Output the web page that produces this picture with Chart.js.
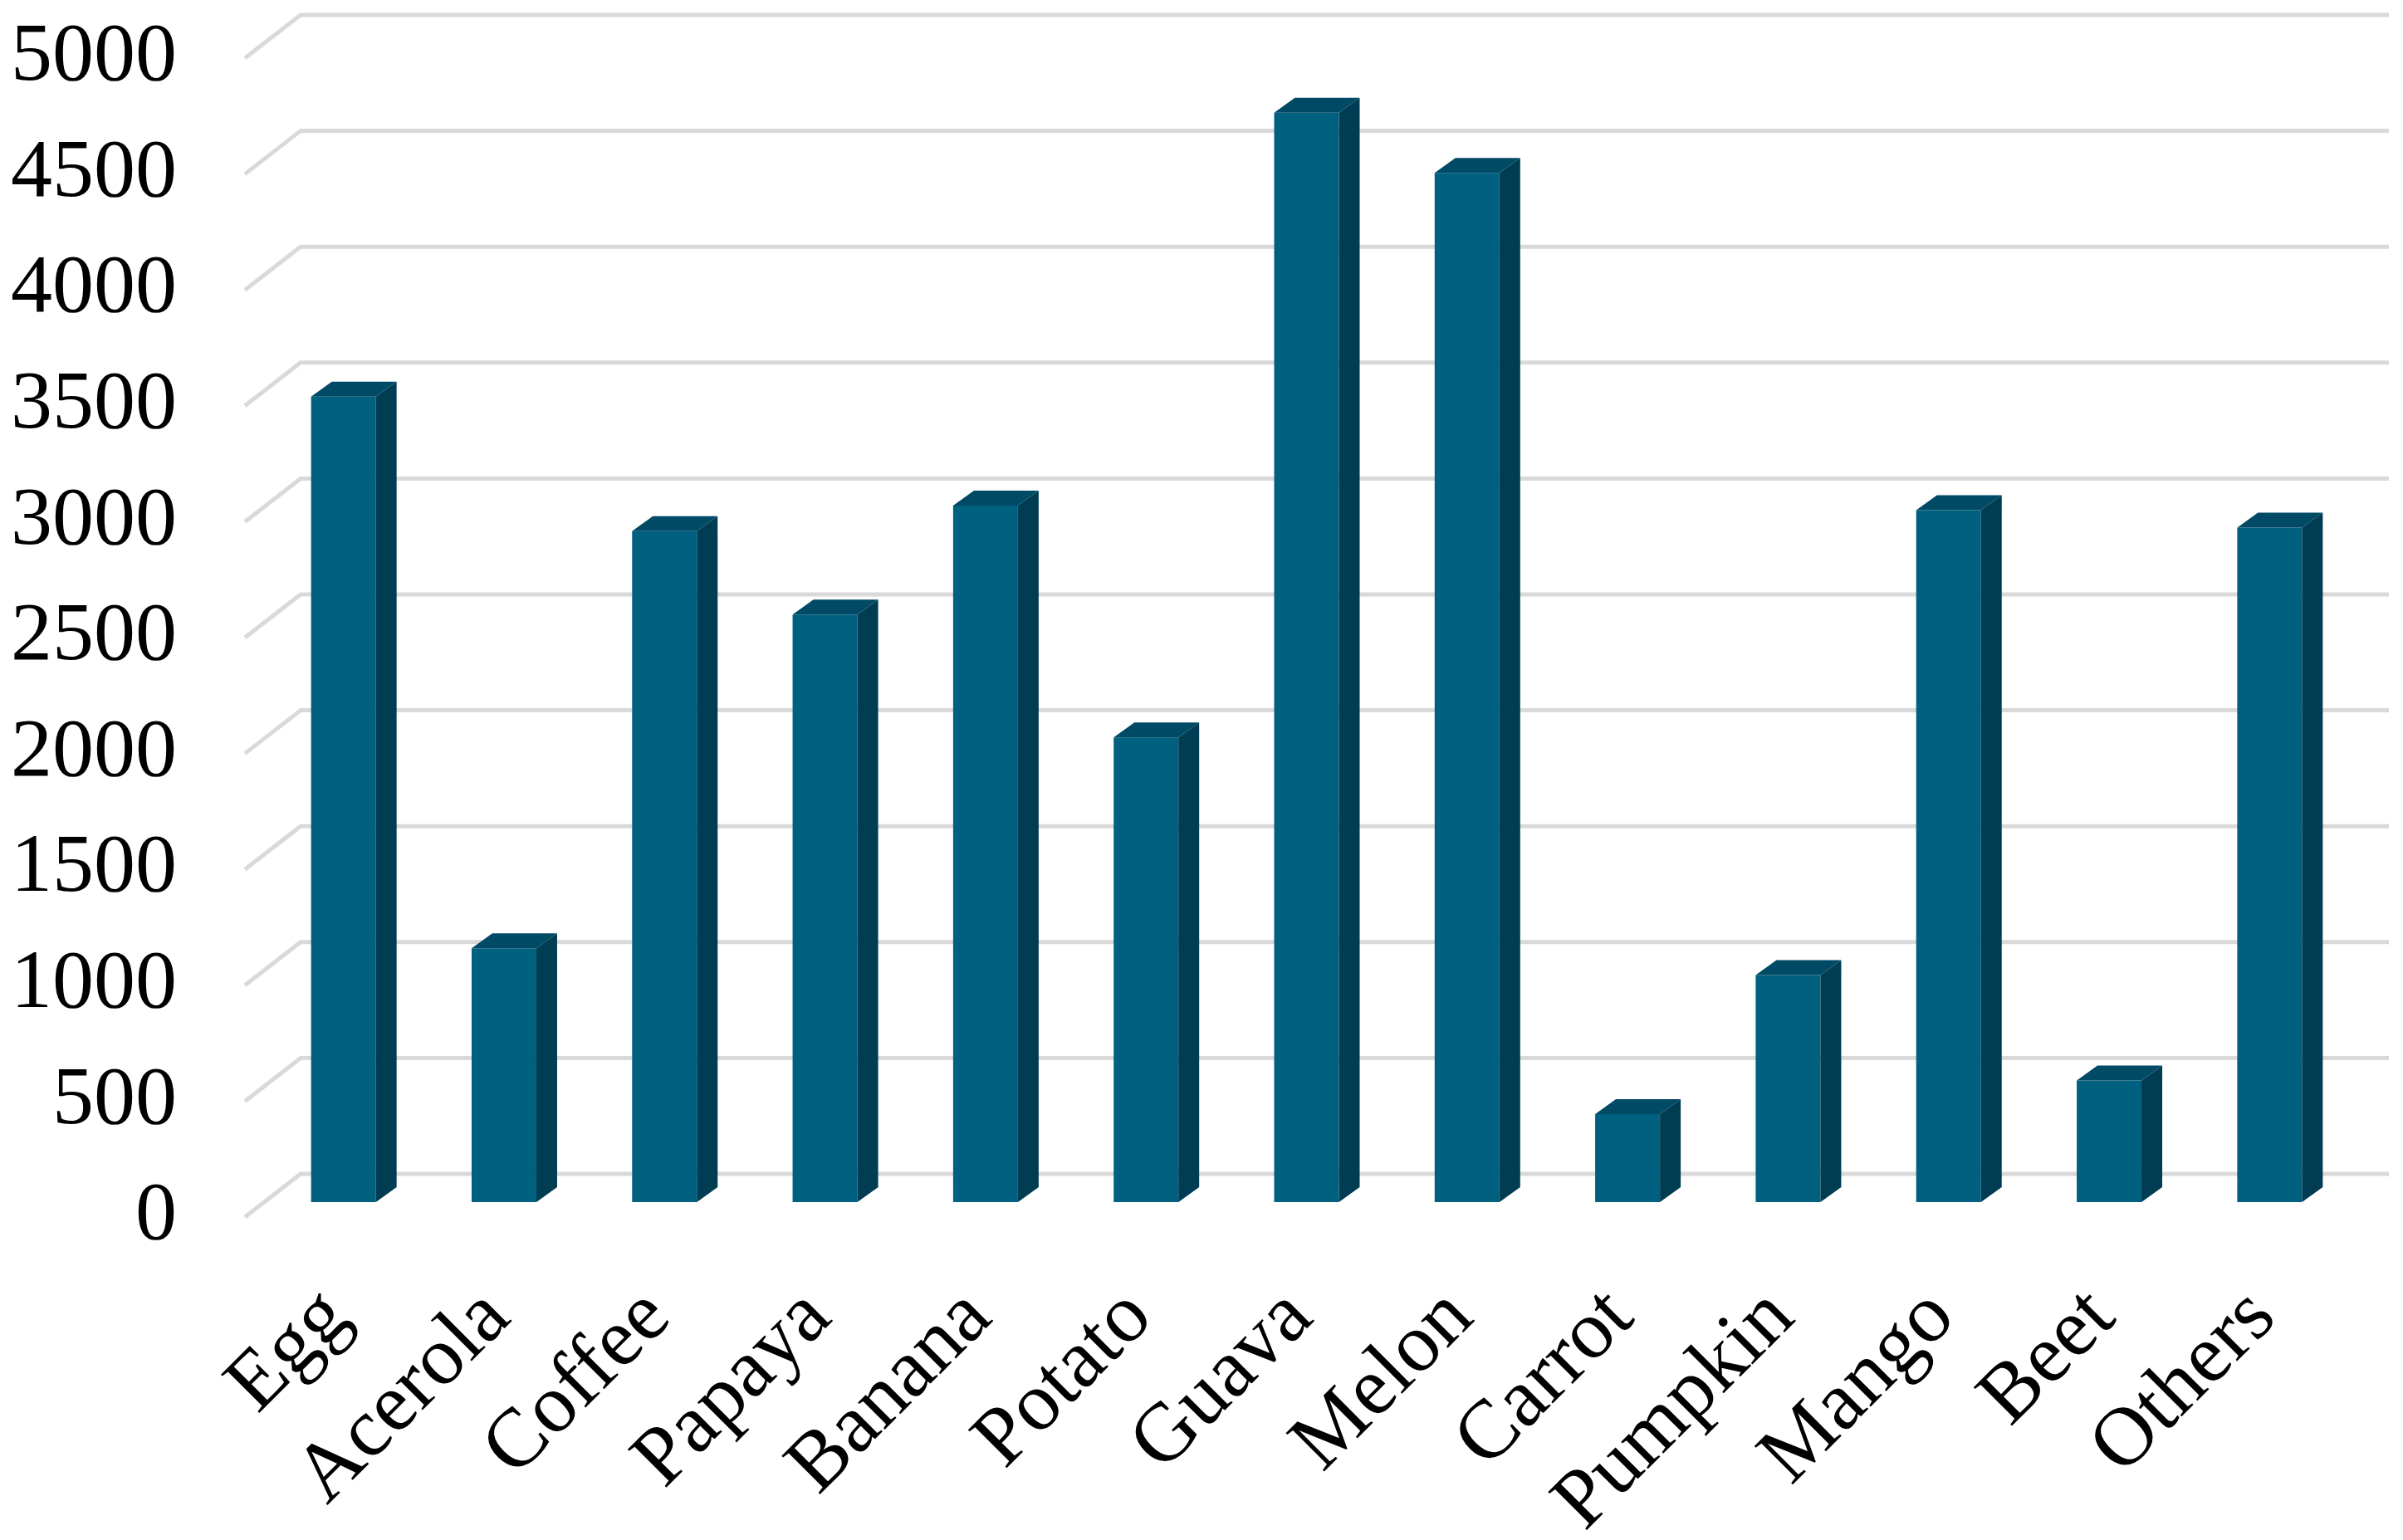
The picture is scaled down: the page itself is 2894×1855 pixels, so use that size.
<!DOCTYPE html>
<html>
<head>
<meta charset="utf-8">
<title>Production by crop</title>
<script src="https://cdn.jsdelivr.net/npm/chart.js@4.4.1/dist/chart.umd.min.js"></script>
<style>
  html, body { margin: 0; padding: 0; background: #ffffff; }
  #wrap { width: 2894px; height: 1855px; }
</style>
</head>
<body>
<div id="wrap"><canvas id="chart" width="2894" height="1855"></canvas></div>
<script>
const categories = ['Egg', 'Acerola', 'Coffee', 'Papaya', 'Banana', 'Potato', 'Guava',
  'Melon', 'Carrot', 'Pumpkin', 'Mango', 'Beet', 'Others'];
const values = [3475, 1095, 2895, 2535, 3005, 2005, 4700, 4440, 380, 980, 2985, 525, 2910];
const yMin = 0;
const yMax = 5000;
const yStep = 500;

const FONT = '"Liberation Serif", "Times New Roman", serif';
const COLORS = {
  front: '#006080',
  side: '#003c52',
  top: '#004a66',
  grid: '#d9d9d9',
  text: '#000000',
};

// oblique 3D look: bar depth and wall/floor offsets, in px
const bar3d = { dx: 25, dy: -18 };
const wall = { frontDx: -22, frontDy: 18, backDx: 45, backDy: -34, rightExtra: 47 };

const gridPlugin = {
  id: 'backWall',
  beforeDatasetsDraw(chart) {
    const { ctx, chartArea, scales } = chart;
    const y = scales.y;
    ctx.save();
    ctx.strokeStyle = COLORS.grid;
    ctx.lineWidth = 5;
    ctx.lineJoin = 'round';
    y.ticks.forEach((t) => {
      const py = y.getPixelForValue(t.value);
      ctx.beginPath();
      ctx.moveTo(chartArea.left + wall.frontDx, py + wall.frontDy);
      ctx.lineTo(chartArea.left + wall.backDx, py + wall.backDy);
      ctx.lineTo(chartArea.right + wall.rightExtra, py + wall.backDy);
      ctx.stroke();
    });
    ctx.restore();
  },
  afterDatasetsDraw(chart) {
    const { ctx } = chart;
    const meta = chart.getDatasetMeta(0);
    ctx.save();
    meta.data.forEach((el) => {
      const { x, y, base, width } = el.getProps(['x', 'y', 'base', 'width'], true);
      const l = x - width / 2;
      const r = x + width / 2;
      // side face
      ctx.fillStyle = COLORS.side;
      ctx.beginPath();
      ctx.moveTo(r, y);
      ctx.lineTo(r + bar3d.dx, y + bar3d.dy);
      ctx.lineTo(r + bar3d.dx, base + bar3d.dy);
      ctx.lineTo(r, base);
      ctx.closePath();
      ctx.fill();
      // top face
      ctx.fillStyle = COLORS.top;
      ctx.beginPath();
      ctx.moveTo(l, y);
      ctx.lineTo(l + bar3d.dx, y + bar3d.dy);
      ctx.lineTo(r + bar3d.dx, y + bar3d.dy);
      ctx.lineTo(r, y);
      ctx.closePath();
      ctx.fill();
    });
    ctx.restore();
  },
};

new Chart(document.getElementById('chart'), {
  type: 'bar',
  data: {
    labels: categories,
    datasets: [{
      data: values,
      backgroundColor: COLORS.front,
      borderWidth: 0,
      barPercentage: 0.4035,
      categoryPercentage: 1,
    }],
  },
  options: {
    responsive: false,
    animation: false,
    devicePixelRatio: 1,
    layout: { padding: { top: 52, right: 64, bottom: 0, left: 0 } },
    plugins: { legend: { display: false }, tooltip: { enabled: false } },
    scales: {
      x: {
        grid: { display: false },
        border: { display: false },
        ticks: {
          color: COLORS.text,
          font: { family: FONT, size: 100 },
          minRotation: 45,
          maxRotation: 45,
          padding: 73,
          labelOffset: -8,
          autoSkip: false,
        },
        afterFit: (s) => {
          s.height = 407;
          s.paddingLeft = 0;
          s.paddingRight = 0;
        },
      },
      y: {
        min: yMin,
        max: yMax,
        grid: { display: false },
        border: { display: false },
        ticks: {
          stepSize: yStep,
          color: COLORS.text,
          font: { family: FONT, size: 100 },
          padding: 96,
          labelOffset: 18,
          callback: (v) => String(v),
        },
        afterFit: (s) => {
          s.width = 317;
          s.paddingTop = 0;
          s.paddingBottom = 0;
        },
      },
    },
  },
  plugins: [gridPlugin],
});
</script>
</body>
</html>
